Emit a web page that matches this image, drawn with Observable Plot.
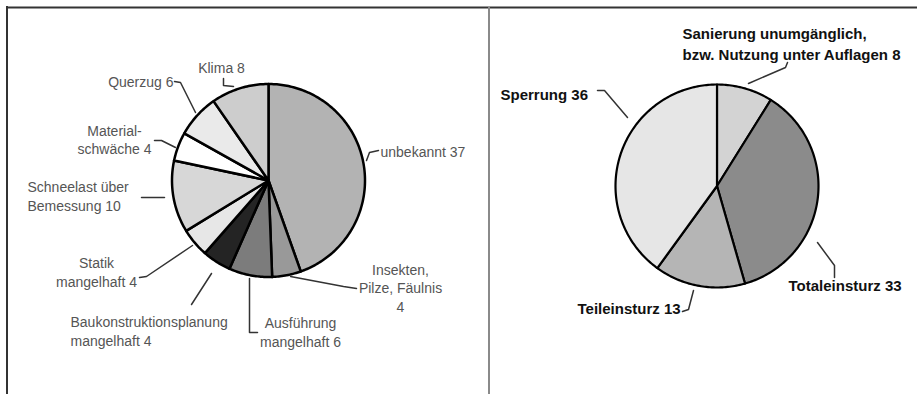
<!DOCTYPE html>
<html>
<head>
<meta charset="utf-8">
<script src="https://cdn.jsdelivr.net/npm/d3@7"></script>
<script src="https://cdn.jsdelivr.net/npm/@observablehq/plot@0.6"></script>
<style>
  html, body { margin: 0; padding: 0; background: #fff; }
  #chart svg { display: block; font-family: "Liberation Sans", Arial, sans-serif; }
</style>
</head>
<body>
<div id="chart"></div>
<script>
// ---------- data ----------
const causeCategories = ["unbekannt", "Insekten,\nPilze, Fäulnis", "Ausführung\nmangelhaft", "Baukonstruktionsplanung\nmangelhaft", "Statik\nmangelhaft", "Schneelast über\nBemessung", "Material-\nschwäche", "Querzug", "Klima"];
const causeValues = [37, 4, 6, 4, 4, 10, 4, 6, 8];
const causeValueSep = [" ", "\n", " ", " ", " ", " ", " ", " ", " "];

const outcomeCategories = ["Sanierung unumgänglich,\nbzw. Nutzung unter Auflagen", "Totaleinsturz", "Teileinsturz", "Sperrung"];
const outcomeValues = [8, 33, 13, 36];

// ---------- styles / layout ----------
const causeColors = ["#b3b3b3", "#999999", "#7c7c7c", "#242424", "#e7e7e7", "#d7d7d7", "#ffffff", "#eaeaea", "#cdcdcd"];
const outcomeColors = ["#d3d3d3", "#8b8b8b", "#b5b5b5", "#e6e6e6"];

const leftPie = {cx: 268, cy: 180, r: 96.5};
const rightPie = {cx: 716.5, cy: 185.5, r: 101.5};

const causeLabelPos = [
  {x: 380, y: 151, anchor: "start"},
  {x: 400, y: 287, anchor: "middle"},
  {x: 300, y: 331, anchor: "middle"},
  {x: 70, y: 330, anchor: "start"},
  {x: 96, y: 271, anchor: "middle"},
  {x: 27, y: 195, anchor: "start"},
  {x: 114, y: 138.5, anchor: "middle"},
  {x: 173, y: 81, anchor: "end"},
  {x: 221, y: 67, anchor: "middle"}
];
const causeLeaders = [
  [[366,160],[369,152],[378,150]],
  [[290,276],[343,286],[356,288]],
  [[249,278],[249,332],[257,332]],
  [[191,304],[211,273]],
  [[139,277],[146,276],[192,245]],
  [[141,197],[164,197]],
  [[154,140],[161,140],[175,147]],
  [[174,81],[180,82],[195,112]],
  [[223,78],[223,85],[233,86]]
];
const outcomeLabelPos = [
  {x: 682, y: 42.5, anchor: "start"},
  {x: 788, y: 284, anchor: "start"},
  {x: 577, y: 307, anchor: "start"},
  {x: 500, y: 93, anchor: "start"}
];
const outcomeLeaders = [
  [[748,83],[785,67],[787,62]],
  [[817,242],[834,265],[834,277]],
  [[682,311],[688,309],[693,290]],
  [[597,90],[604,90],[627,117]]
];

// ---------- build slice polygons ----------
function slices(values, colors, pie, key) {
  const arcs = d3.pie().sort(null).startAngle(0).endAngle(2 * Math.PI)(values);
  const pts = [];
  arcs.forEach((a, i) => {
    const id = key + i;
    pts.push({id, color: colors[i], x: pie.cx, y: pie.cy});
    const n = Math.max(2, Math.ceil((a.endAngle - a.startAngle) / (Math.PI / 180)));
    for (let k = 0; k <= n; k++) {
      const t = a.startAngle + (a.endAngle - a.startAngle) * k / n;
      pts.push({id, color: colors[i], x: pie.cx + pie.r * Math.sin(t), y: pie.cy - pie.r * Math.cos(t)});
    }
    pts.push({id, color: colors[i], x: pie.cx, y: pie.cy});
  });
  return pts;
}
function leaderPts(list, key) {
  const out = [];
  list.forEach((l, i) => l.forEach(([x, y]) => out.push({id: key + i, x, y})));
  return out;
}

const leftSlices = slices(causeValues, causeColors, leftPie, "L");
const rightSlices = slices(outcomeValues, outcomeColors, rightPie, "R");

const leftLabels = causeCategories.map((c, i) => ({text: c + causeValueSep[i] + causeValues[i], ...causeLabelPos[i]}));
const rightLabels = outcomeCategories.map((c, i) => ({text: c + " " + outcomeValues[i], ...outcomeLabelPos[i]}));

const textMarks = (labels, opts) => ["start", "middle", "end"].map(anchor =>
  Plot.text(labels.filter(d => d.anchor === anchor), {x: "x", y: "y", text: "text", textAnchor: anchor, ...opts}));

const chart = Plot.plot({
  width: 917,
  height: 394,
  margin: 0,
  x: {domain: [0, 917], axis: null},
  y: {domain: [0, 394], range: [0, 394], axis: null},
  color: {type: "identity"},
  marks: [
    // frame
    Plot.ruleY([7], {x1: 6, x2: 917, stroke: "#333", strokeWidth: 2}),
    Plot.ruleX([6.5], {y1: 6, y2: 394, stroke: "#333", strokeWidth: 2}),
    Plot.ruleX([488.5], {y1: 7, y2: 394, stroke: "#8a8a8a", strokeWidth: 2}),
    // pies
    Plot.line(leftSlices, {x: "x", y: "y", z: "id", fill: "color", stroke: "#000", strokeWidth: 2.5, strokeLinejoin: "round", curve: "linear"}),
    Plot.line(rightSlices, {x: "x", y: "y", z: "id", fill: "color", stroke: "#000", strokeWidth: 2.2, strokeLinejoin: "round", curve: "linear"}),
    // leaders
    Plot.line(leaderPts(causeLeaders, "a"), {x: "x", y: "y", z: "id", stroke: "#333", strokeWidth: 1.5}),
    Plot.line(leaderPts(outcomeLeaders, "b"), {x: "x", y: "y", z: "id", stroke: "#333", strokeWidth: 1.5}),
    // labels
    ...textMarks(leftLabels, {fill: "#555", fontSize: 14, lineHeight: 1.32}),
    ...textMarks(rightLabels, {fill: "#111", fontSize: 15, fontWeight: "bold", lineHeight: 1.4})
  ]
});
document.getElementById("chart").appendChild(chart);
</script>
</body>
</html>
